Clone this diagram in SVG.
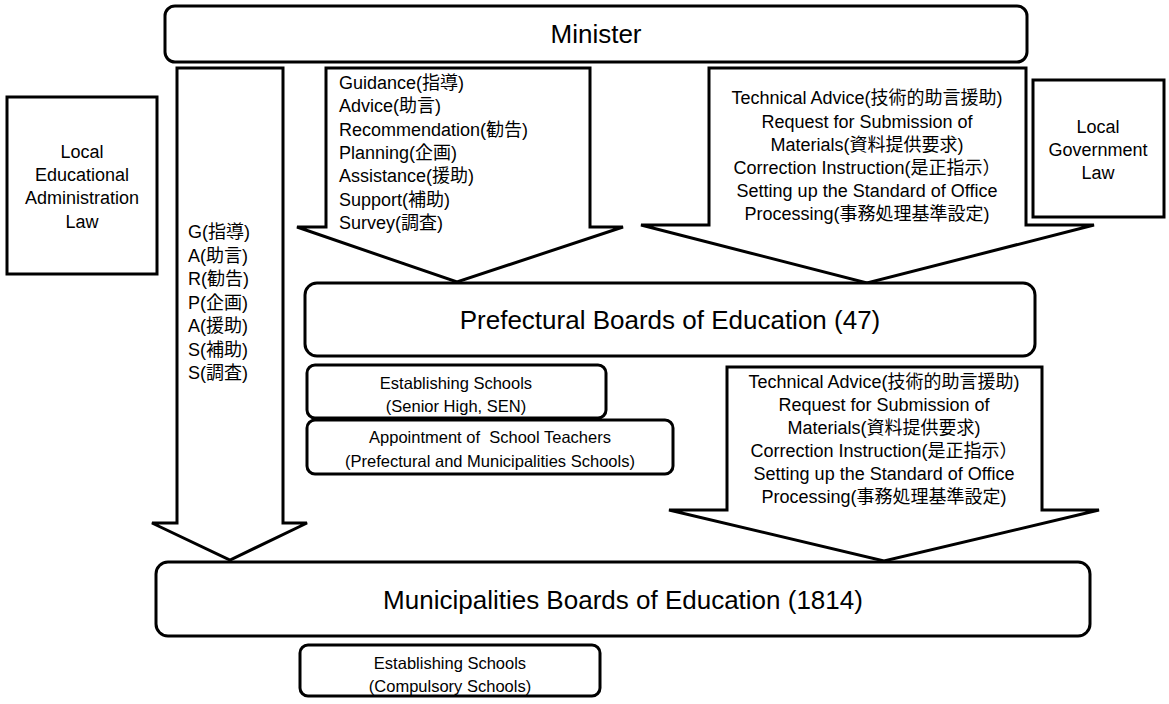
<svg xmlns="http://www.w3.org/2000/svg" width="1169" height="704" viewBox="0 0 1169 704">
<style>
  .box { fill: #fff; stroke: #000; stroke-width: 3; }
  .arrow { fill: #fff; stroke: #000; stroke-width: 3; stroke-linejoin: miter; }
  text { font-family: "Liberation Sans", "Noto Sans CJK JP", sans-serif; fill: #000; }
  .big { font-size: 26px; text-anchor: middle; }
  .mid { font-size: 18px; }
  .c { text-anchor: middle; }
  .sm { font-size: 16.5px; text-anchor: middle; }
</style>
<rect width="1169" height="704" fill="#fff"/>

<g id="connectors">
  <g id="arrow-left">
    <polygon class="arrow" points="177,68 283,68 283,523 307,523 230,560 152,523 177,523"/>
    <text class="mid"><tspan x="188" y="238">G(指導)</tspan><tspan x="188" y="262">A(助言)</tspan><tspan x="188" y="285">R(勧告)</tspan><tspan x="188" y="309">P(企画)</tspan><tspan x="188" y="332">A(援助)</tspan><tspan x="188" y="356">S(補助)</tspan><tspan x="188" y="379">S(調査)</tspan></text>
  </g>
  <g id="arrow-middle">
    <polygon class="arrow" points="326,68 590,68 590,227 623,227 457,282 297,227 326,227"/>
    <text class="mid"><tspan x="339" y="89">Guidance(指導)</tspan><tspan x="339" y="112">Advice(助言)</tspan><tspan x="339" y="136">Recommendation(勧告)</tspan><tspan x="339" y="159">Planning(企画)</tspan><tspan x="339" y="182">Assistance(援助)</tspan><tspan x="339" y="206">Support(補助)</tspan><tspan x="339" y="229">Survey(調査)</tspan></text>
  </g>
  <g id="arrow-right">
    <polygon class="arrow" points="709,68 1026,68 1026,225 1094,225 867,283 641,225 709,225"/>
    <text class="mid c"><tspan x="867" y="104">Technical Advice(技術的助言援助)</tspan><tspan x="867" y="128">Request for Submission of</tspan><tspan x="867" y="151">Materials(資料提供要求)</tspan><tspan x="867" y="174">Correction Instruction(是正指示）</tspan><tspan x="867" y="197">Setting up the Standard of Office</tspan><tspan x="867" y="220">Processing(事務処理基準設定)</tspan></text>
  </g>
  <g id="arrow-lower">
    <polygon class="arrow" points="727,367 1042,367 1042,510 1099,510 884,561 669,510 727,510"/>
    <text class="mid c"><tspan x="884" y="388">Technical Advice(技術的助言援助)</tspan><tspan x="884" y="411">Request for Submission of</tspan><tspan x="884" y="434">Materials(資料提供要求)</tspan><tspan x="884" y="457">Correction Instruction(是正指示）</tspan><tspan x="884" y="480">Setting up the Standard of Office</tspan><tspan x="884" y="503">Processing(事務処理基準設定)</tspan></text>
  </g>
</g>

<g id="minister">
  <rect class="box" x="165" y="6" width="862" height="56" rx="10"/>
  <text class="big" x="596" y="43">Minister</text>
</g>

<g id="local-ed-admin-law">
  <rect class="box" x="7" y="97" width="150" height="177"/>
  <text class="mid c"><tspan x="82" y="158">Local</tspan><tspan x="82" y="181">Educational</tspan><tspan x="82" y="204">Administration</tspan><tspan x="82" y="228">Law</tspan></text>
</g>

<g id="local-gov-law">
  <rect class="box" x="1033" y="80" width="131" height="137"/>
  <text class="mid c"><tspan x="1098" y="133">Local</tspan><tspan x="1098" y="156">Government</tspan><tspan x="1098" y="179">Law</tspan></text>
</g>

<g id="prefectural">
  <rect class="box" x="305" y="283" width="730" height="73" rx="12"/>
  <text class="big" x="670" y="329" font-size="27">Prefectural Boards of Education (47)</text>
</g>

<g id="pref-establishing">
  <rect class="box" x="307" y="365" width="299" height="53" rx="8"/>
  <text class="sm"><tspan x="456" y="389">Establishing Schools</tspan><tspan x="456" y="412">(Senior High, SEN)</tspan></text>
</g>

<g id="pref-appointment">
  <rect class="box" x="307" y="420" width="366" height="54" rx="8"/>
  <text class="sm"><tspan x="490" y="443">Appointment of&#160; School Teachers</tspan><tspan x="490" y="467">(Prefectural and Municipalities Schools)</tspan></text>
</g>

<g id="municipalities">
  <rect class="box" x="156" y="562" width="934" height="74" rx="12"/>
  <text class="big" x="623" y="609" font-size="27">Municipalities Boards of Education (1814)</text>
</g>

<g id="muni-establishing">
  <rect class="box" x="300" y="645" width="300" height="51" rx="8"/>
  <text class="sm"><tspan x="450" y="669">Establishing Schools</tspan><tspan x="450" y="692">(Compulsory Schools)</tspan></text>
</g>
</svg>
